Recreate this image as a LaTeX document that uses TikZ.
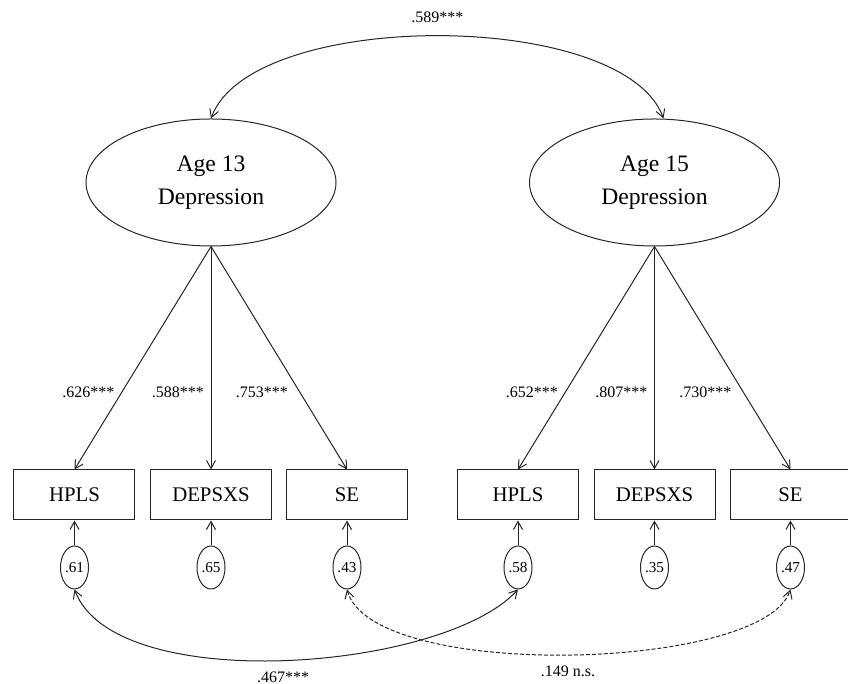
\documentclass[tikz,border=0pt]{standalone}
\usepackage{fontspec}
\setmainfont{Liberation Serif}
\usepackage{tikz}
\usetikzlibrary{arrows.meta, positioning, shapes.geometric}

\begin{document}
\begin{tikzpicture}[
  line width=0.5pt,
  latent/.style={draw=black!85, ellipse, minimum width=125pt, minimum height=63.5pt, inner sep=0pt, align=center, font=\fontsize{11.8}{16.5}\selectfont},
  block/.style={draw=black!85, minimum width=60.5pt, minimum height=25pt, inner sep=0pt, font=\fontsize{10.4}{12}\selectfont},
  resid/.style={draw=black!85, ellipse, minimum width=14pt, minimum height=21.5pt, inner sep=0pt, font=\fontsize{7.6}{9}\selectfont},
  arrow/.style={draw=black!85, -{Straight Barb[length=4pt, width=4.5pt]}},
  cov/.style={draw=black!85, {Straight Barb[length=4pt, width=4.5pt]}-{Straight Barb[length=4pt, width=4.5pt]}},
  load/.style={left, font=\fontsize{8}{9}\selectfont},
  est/.style={font=\fontsize{8}{9}\selectfont}
]
  \useasboundingbox (-37.25pt,-94.5pt) rectangle (386.75pt,247.5pt);

  % indicators
  \node[block] (hpls13) at (0,0) {HPLS};
  \node[block, right=7.25pt of hpls13] (dep13) {DEPSXS};
  \node[block, right=7pt of dep13] (se13) {SE};
  \node[block, right=24.5pt of se13] (hpls15) {HPLS};
  \node[block, right=7.25pt of hpls15] (dep15) {DEPSXS};
  \node[block, right=7pt of dep15] (se15) {SE};

  % factors
  \node[latent, above=111.5pt of dep13] (age13) {Age 13\\Depression};
  \node[latent, above=111.5pt of dep15] (age15) {Age 15\\Depression};

  % residuals
  \node[resid, below=12.5pt of hpls13] (e1) {.61};
  \node[resid, below=12.5pt of dep13] (e2) {.65};
  \node[resid, below=12.5pt of se13] (e3) {.43};
  \node[resid, below=12.5pt of hpls15] (e4) {.58};
  \node[resid, below=12.5pt of dep15] (e5) {.35};
  \node[resid, below=12.5pt of se15] (e6) {.47};

  % loadings
  \draw[arrow] (age13.south) -- node[load, pos=.655] {.626***} (hpls13.north);
  \draw[arrow] (age13.south) -- node[load, pos=.655] {.588***} (dep13.north);
  \draw[arrow] (age13.south) -- node[load, pos=.655, xshift=-2.5pt] {.753***} (se13.north);
  \draw[arrow] (age15.south) -- node[load, pos=.655] {.652***} (hpls15.north);
  \draw[arrow] (age15.south) -- node[load, pos=.655] {.807***} (dep15.north);
  \draw[arrow] (age15.south) -- node[load, pos=.655, xshift=-2.5pt] {.730***} (se15.north);

  % residual arrows
  \foreach \e/\b in {e1/hpls13, e2/dep13, e3/se13, e4/hpls15, e5/dep15, e6/se15}
    \draw[arrow] (\e) -- (\b);

  % covariances
  \draw[cov] (age13.north) .. controls +(20pt,55pt) and +(-20pt,55pt) .. node[est, pos=.5, above=3pt] {.589***} ([xshift=4.5pt]age15.north);
  \draw[cov] (e1.south) .. controls +(20pt,-53.5pt) and +(-37.5pt,-41pt) .. node[est, pos=.5, below=2pt] {.467***} (e4.south);
  \draw[cov, dash pattern=on 2pt off 1pt] (e3.south) .. controls +(12.5pt,-46pt) and +(-13.5pt,-41pt) .. node[est, pos=.5, below=2pt] {.149 n.s.} (e6.south);
\end{tikzpicture}
\end{document}
